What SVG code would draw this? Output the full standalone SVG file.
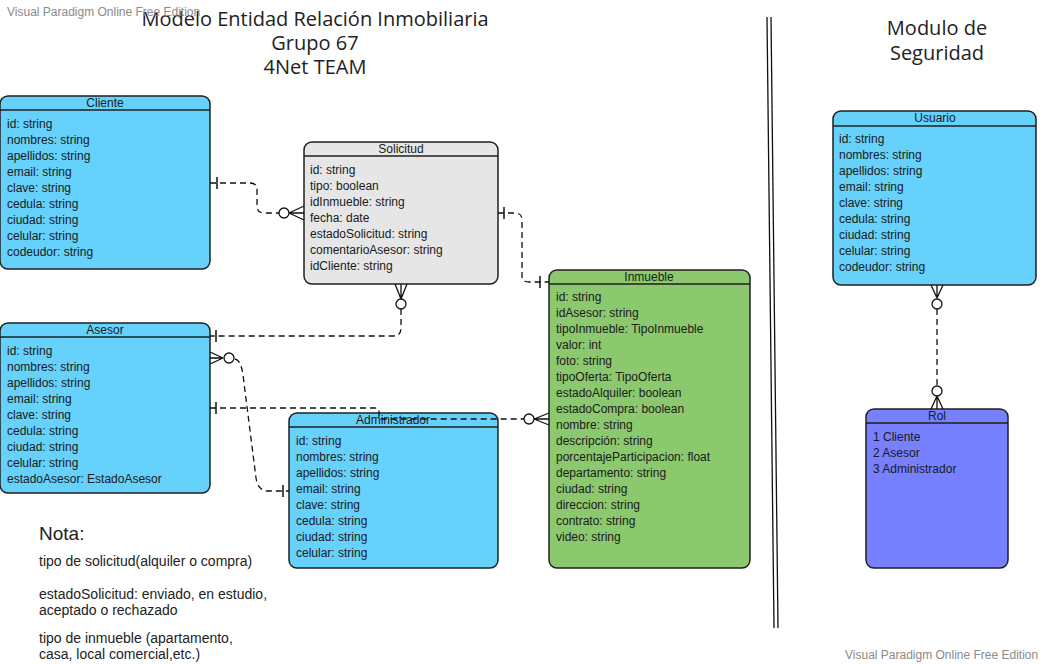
<svg xmlns="http://www.w3.org/2000/svg" width="1043" height="665" viewBox="0 0 1043 665">
<style>
.bg{fill:#fff}
.box{stroke:#1f1f1f;stroke-width:1.5}
.blue{fill:#66D1FA}
.grey{fill:#E6E6E6}
.green{fill:#8CC86E}
.purple{fill:#7780FF}
.hl{stroke:#1f1f1f;stroke-width:1.5}
.t{font-family:"Liberation Sans",Arial,sans-serif;font-size:12px;fill:#1a1a1a}
.h{font-family:"Liberation Sans",Arial,sans-serif;font-size:12px;fill:#1a1a1a;text-anchor:middle}
.title{font-family:"Open Sans","DejaVu Sans",sans-serif;font-size:20px;fill:#222;text-anchor:middle}
.wm{font-family:"Liberation Sans",Arial,sans-serif;font-size:12px;fill:#8a8a8a}
.note{font-family:"Liberation Sans",Arial,sans-serif;font-size:14px;fill:#222}
.dash{fill:none;stroke:#111;stroke-width:1.3;stroke-dasharray:6 4}
.sym{fill:none;stroke:#111;stroke-width:1.3}
.bar{stroke:#111;stroke-width:1.5}
.circ{fill:#fff;stroke:#111;stroke-width:1.3}
.sep{stroke:#111;stroke-width:1.3}
</style>
<rect class="bg" x="0" y="0" width="1043" height="665"/>

<g id="titles">
<text class="title" x="315" y="26">Modelo Entidad Relación Inmobiliaria</text>
<text class="title" x="315" y="50">Grupo 67</text>
<text class="title" x="315" y="74">4Net TEAM</text>
<text class="title" x="937" y="35">Modulo de</text>
<text class="title" x="937" y="60">Seguridad</text>
</g>

<g id="separator">
<line class="sep" x1="767" y1="17" x2="774" y2="628"/>
<line class="sep" x1="771" y1="17" x2="778" y2="628"/>
</g>

<g id="cliente">
<rect class="box blue" x="0" y="96" width="210" height="173" rx="8"/>
<line class="hl" x1="0" y1="110" x2="210" y2="110"/>
<text class="h" x="105" y="107">Cliente</text>
<text class="t" x="7" y="128">id: string</text>
<text class="t" x="7" y="144">nombres: string</text>
<text class="t" x="7" y="160">apellidos: string</text>
<text class="t" x="7" y="176">email: string</text>
<text class="t" x="7" y="192">clave: string</text>
<text class="t" x="7" y="208">cedula: string</text>
<text class="t" x="7" y="224">ciudad: string</text>
<text class="t" x="7" y="240">celular: string</text>
<text class="t" x="7" y="256">codeudor: string</text>
</g>

<g id="solicitud">
<rect class="box grey" x="304" y="142" width="194" height="142" rx="8"/>
<line class="hl" x1="304" y1="156" x2="498" y2="156"/>
<text class="h" x="401" y="153">Solicitud</text>
<text class="t" x="310" y="174">id: string</text>
<text class="t" x="310" y="190">tipo: boolean</text>
<text class="t" x="310" y="206">idInmueble: string</text>
<text class="t" x="310" y="222">fecha: date</text>
<text class="t" x="310" y="238">estadoSolicitud: string</text>
<text class="t" x="310" y="254">comentarioAsesor: string</text>
<text class="t" x="310" y="270">idCliente: string</text>
</g>

<g id="asesor">
<rect class="box blue" x="0" y="323" width="210" height="170" rx="8"/>
<line class="hl" x1="0" y1="337" x2="210" y2="337"/>
<text class="h" x="105" y="334">Asesor</text>
<text class="t" x="7" y="355">id: string</text>
<text class="t" x="7" y="371">nombres: string</text>
<text class="t" x="7" y="387">apellidos: string</text>
<text class="t" x="7" y="403">email: string</text>
<text class="t" x="7" y="419">clave: string</text>
<text class="t" x="7" y="435">cedula: string</text>
<text class="t" x="7" y="451">ciudad: string</text>
<text class="t" x="7" y="467">celular: string</text>
<text class="t" x="7" y="483">estadoAsesor: EstadoAsesor</text>
</g>

<g id="administrador">
<rect class="box blue" x="289" y="413" width="209" height="155" rx="8"/>
<line class="hl" x1="289" y1="427" x2="498" y2="427"/>
<text class="h" x="393" y="424">Administrador</text>
<text class="t" x="296" y="445">id: string</text>
<text class="t" x="296" y="461">nombres: string</text>
<text class="t" x="296" y="477">apellidos: string</text>
<text class="t" x="296" y="493">email: string</text>
<text class="t" x="296" y="509">clave: string</text>
<text class="t" x="296" y="525">cedula: string</text>
<text class="t" x="296" y="541">ciudad: string</text>
<text class="t" x="296" y="557">celular: string</text>
</g>

<g id="inmueble">
<rect class="box green" x="549" y="270" width="201" height="298" rx="8"/>
<line class="hl" x1="549" y1="284" x2="750" y2="284"/>
<text class="h" x="649" y="281">Inmueble</text>
<text class="t" x="556" y="301">id: string</text>
<text class="t" x="556" y="317">idAsesor: string</text>
<text class="t" x="556" y="333">tipoInmueble: TipoInmueble</text>
<text class="t" x="556" y="349">valor: int</text>
<text class="t" x="556" y="365">foto: string</text>
<text class="t" x="556" y="381">tipoOferta: TipoOferta</text>
<text class="t" x="556" y="397">estadoAlquiler: boolean</text>
<text class="t" x="556" y="413">estadoCompra: boolean</text>
<text class="t" x="556" y="429">nombre: string</text>
<text class="t" x="556" y="445">descripción: string</text>
<text class="t" x="556" y="461">porcentajeParticipacion: float</text>
<text class="t" x="556" y="477">departamento: string</text>
<text class="t" x="556" y="493">ciudad: string</text>
<text class="t" x="556" y="509">direccion: string</text>
<text class="t" x="556" y="525">contrato: string</text>
<text class="t" x="556" y="541">video: string</text>
</g>

<g id="usuario">
<rect class="box blue" x="833" y="111" width="203" height="174" rx="8"/>
<line class="hl" x1="833" y1="126" x2="1036" y2="126"/>
<text class="h" x="935" y="122">Usuario</text>
<text class="t" x="839" y="143">id: string</text>
<text class="t" x="839" y="159">nombres: string</text>
<text class="t" x="839" y="175">apellidos: string</text>
<text class="t" x="839" y="191">email: string</text>
<text class="t" x="839" y="207">clave: string</text>
<text class="t" x="839" y="223">cedula: string</text>
<text class="t" x="839" y="239">ciudad: string</text>
<text class="t" x="839" y="255">celular: string</text>
<text class="t" x="839" y="271">codeudor: string</text>
</g>

<g id="rol">
<rect class="box purple" x="866" y="409" width="142" height="159" rx="8"/>
<line class="hl" x1="866" y1="423" x2="1008" y2="423"/>
<text class="h" x="937" y="420">Rol</text>
<text class="t" x="873" y="441">1 Cliente</text>
<text class="t" x="873" y="457">2 Asesor</text>
<text class="t" x="873" y="473">3 Administrador</text>
</g>

<g id="connectors">
<!-- Cliente - Solicitud -->
<path class="dash" d="M210 183 H250 Q257 183 257 190 V206 Q257 213 264 213 H279"/>
<line class="bar" x1="217" y1="177" x2="217" y2="189"/>
<circle class="circ" cx="284" cy="213" r="5"/>
<path class="sym" d="M289 213 L304 206 M289 213 L304 213 M289 213 L304 220"/>
<!-- Solicitud - Inmueble -->
<path class="dash" d="M498 213 H515 Q522 213 522 220 V276 Q522 282 529 282 H549"/>
<line class="bar" x1="504" y1="207" x2="504" y2="219"/>
<line class="bar" x1="540" y1="276" x2="540" y2="288"/>
<!-- Solicitud - Asesor -->
<path class="sym" d="M401 299 L395 284 M401 299 L401 284 M401 299 L407 284"/>
<circle class="circ" cx="401" cy="304" r="5"/>
<path class="dash" d="M401 309 V328 Q401 336 393 336 H210"/>
<line class="bar" x1="216" y1="330" x2="216" y2="342"/>
<!-- Asesor - Administrador -->
<path class="sym" d="M223 358 L210 352 M223 358 L210 358 M223 358 L210 364"/>
<circle class="circ" cx="229" cy="358" r="5"/>
<path class="dash" d="M235 359 Q241 360 243 375 L256 478 Q258 491 268 491 H289"/>
<line class="bar" x1="283" y1="485" x2="283" y2="497"/>
<!-- Asesor - Inmueble -->
<path class="dash" d="M210 408 H375 Q379 408 379 412 V419 H524"/>
<line class="bar" x1="216" y1="402" x2="216" y2="414"/>
<circle class="circ" cx="529" cy="419" r="5"/>
<path class="sym" d="M534 419 L549 413 M534 419 L549 419 M534 419 L549 425"/>
<!-- Usuario - Rol -->
<path class="sym" d="M937 298 L931 285 M937 298 L937 285 M937 298 L943 285"/>
<circle class="circ" cx="937" cy="304" r="5"/>
<path class="dash" d="M937 309 V386"/>
<circle class="circ" cx="937" cy="391" r="5"/>
<path class="sym" d="M937 396 L931 409 M937 396 L937 409 M937 396 L943 409"/>
</g>

<g id="nota">
<text x="39" y="540" style="font-family:'Liberation Sans',Arial,sans-serif;font-size:19px;fill:#222">Nota:</text>
<text class="note" x="39" y="566">tipo de solicitud(alquiler o compra)</text>
<text class="note" x="39" y="599">estadoSolicitud: enviado, en estudio,</text>
<text class="note" x="39" y="615">aceptado o rechazado</text>
<text class="note" x="39" y="643">tipo de inmueble (apartamento,</text>
<text class="note" x="39" y="659">casa, local comercial,etc.)</text>
</g>

<g id="watermarks">
<text class="wm" x="7" y="16">Visual Paradigm Online Free Edition</text>
<text class="wm" x="845" y="659">Visual Paradigm Online Free Edition</text>
</g>
</svg>
